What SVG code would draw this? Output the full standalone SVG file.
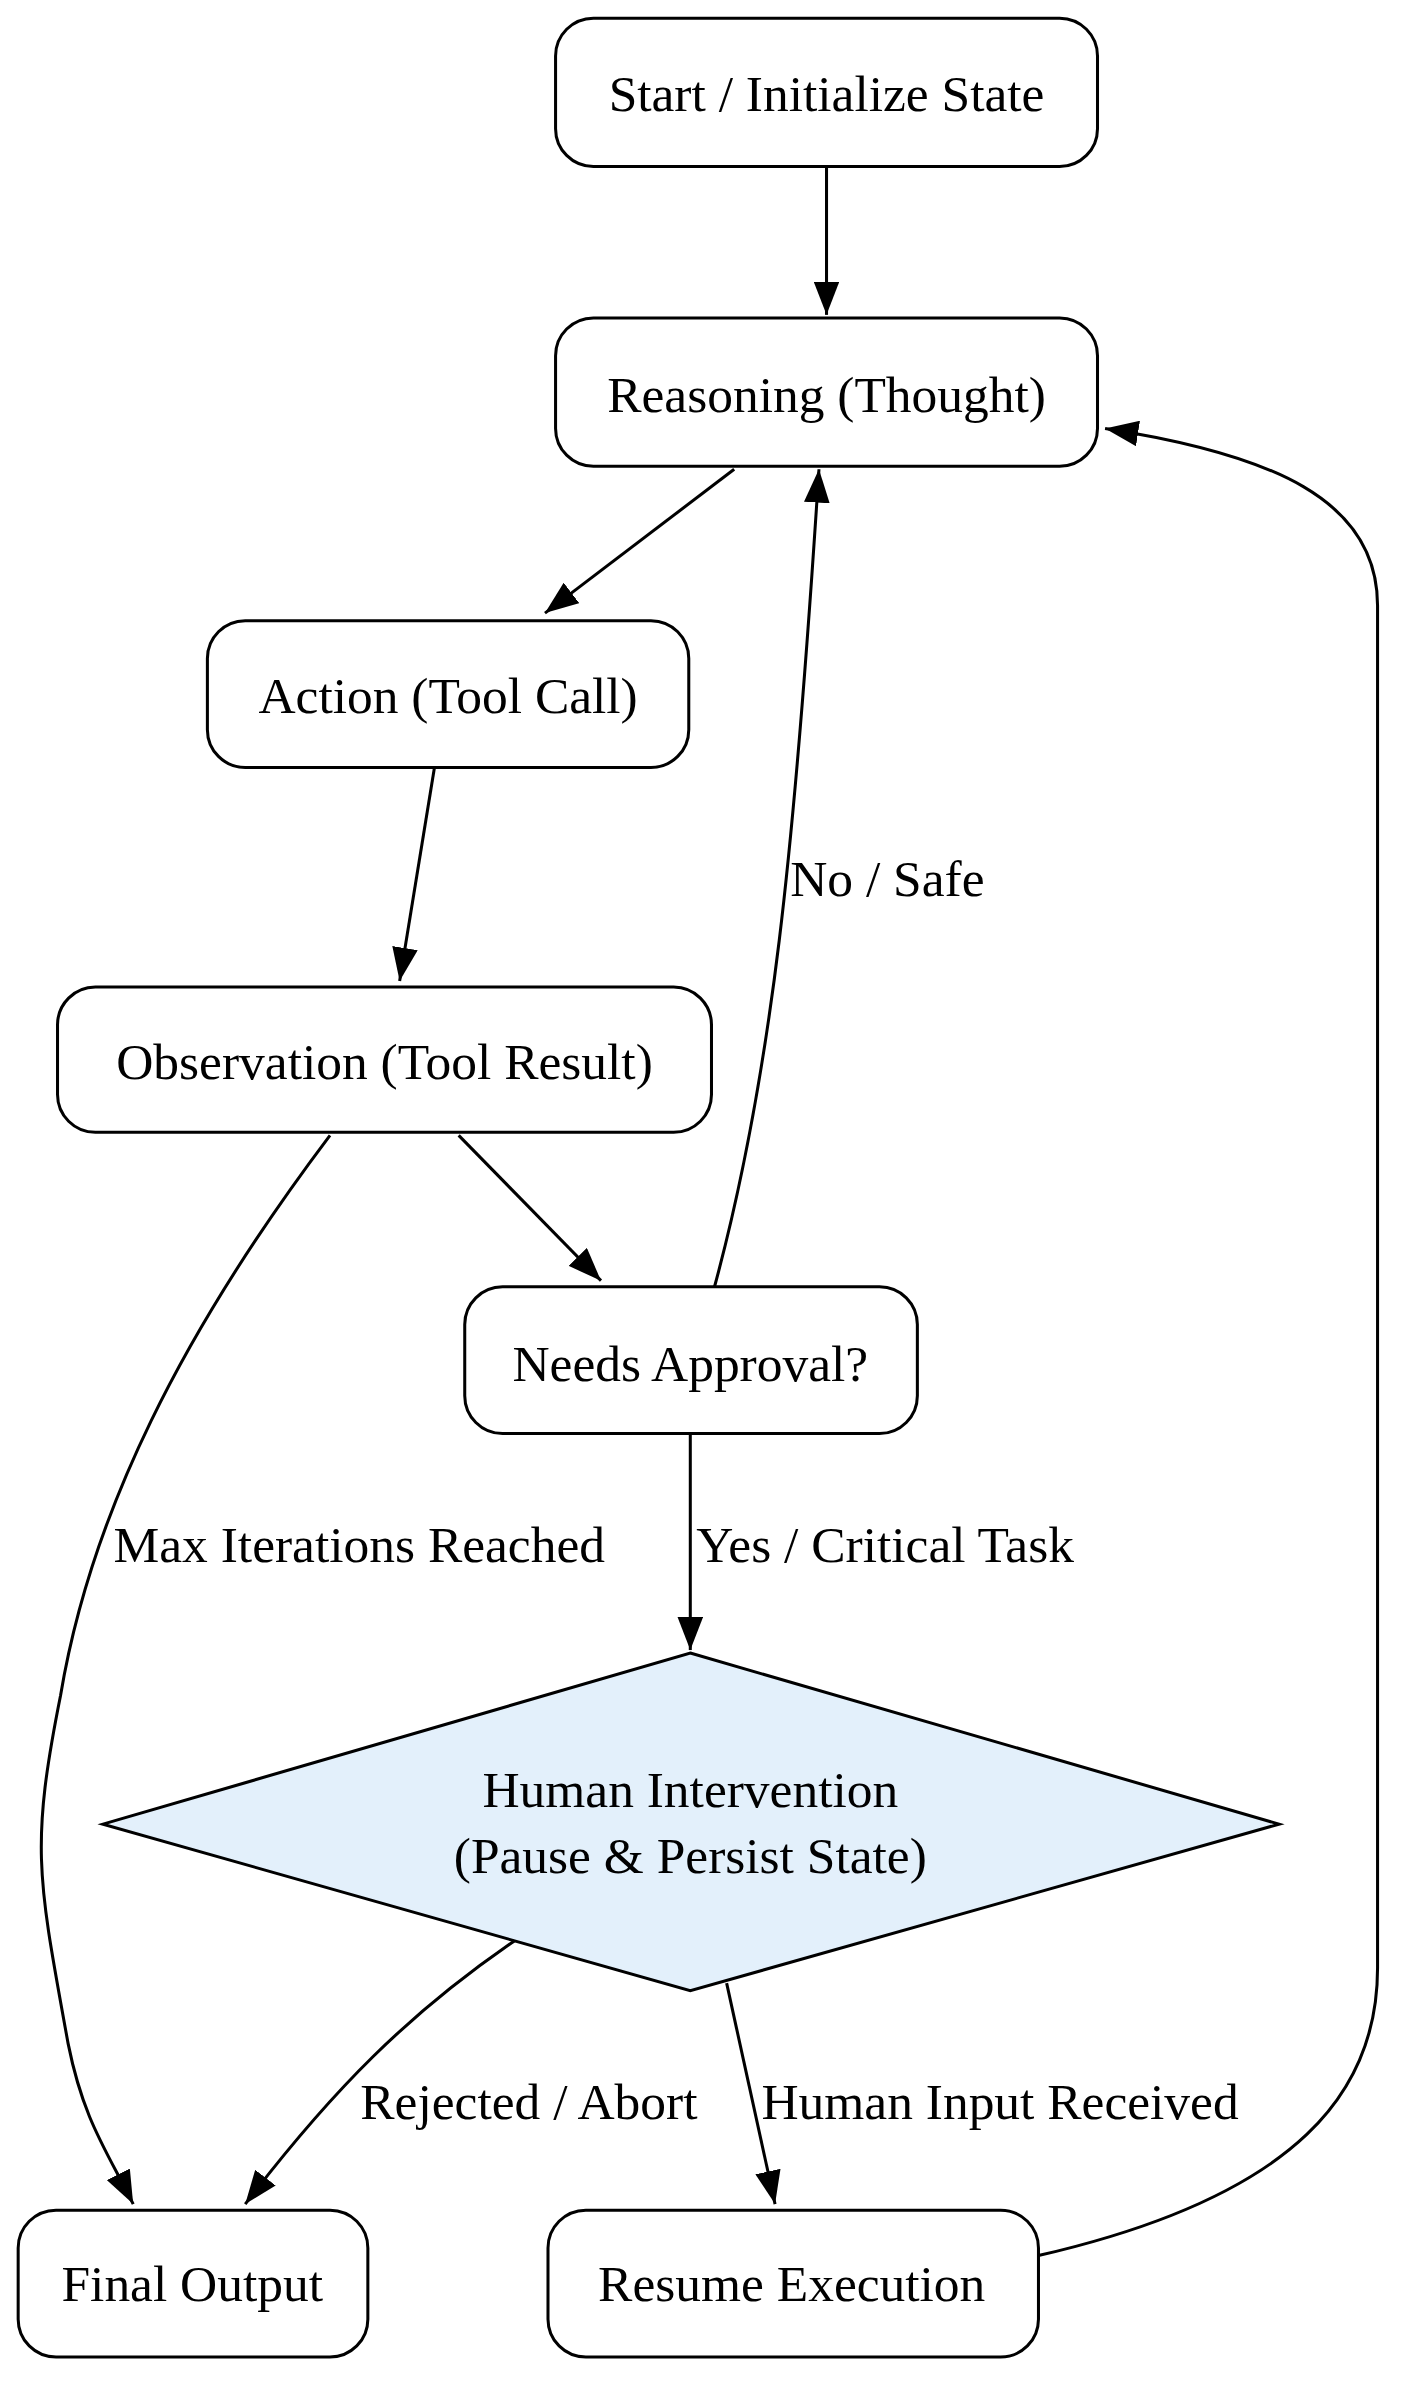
<svg xmlns="http://www.w3.org/2000/svg" width="1423" height="2394" viewBox="0 0 1423 2394">
<style>
.n{fill:#fff;stroke:#000;stroke-width:2}
.d{fill:#e3f0fb;stroke:#000;stroke-width:2}
text{font-family:"Liberation Serif",serif;font-size:34px;fill:#000;text-anchor:middle}
.l{text-anchor:start}
.e{fill:none;stroke:#000;stroke-width:2;marker-end:url(#a)}
</style>
<defs><marker id="a" viewBox="0 0 10 10" refX="10" refY="5" markerWidth="22" markerHeight="17" markerUnits="userSpaceOnUse" orient="auto" preserveAspectRatio="none"><path d="M0,0L10,5L0,10z" fill="#000"/></marker></defs>
<rect width="1423" height="2394" fill="#fff"/>
<g transform="scale(1.5138)">
<g id="start"><rect class="n" x="367" y="12" width="358" height="98" rx="25"/><text x="546" y="73">Start / Initialize State</text></g>
<g id="reasoning"><rect class="n" x="367" y="210" width="358" height="98" rx="25"/><text x="546" y="272">Reasoning (Thought)</text></g>
<g id="action"><rect class="n" x="137" y="410" width="318" height="97" rx="25"/><text x="296" y="471">Action (Tool Call)</text></g>
<g id="observation"><rect class="n" x="38" y="652" width="432" height="96" rx="25"/><text x="254" y="713">Observation (Tool Result)</text></g>
<g id="needs"><rect class="n" x="307" y="850" width="299" height="97" rx="25"/><text x="456" y="912">Needs Approval?</text></g>
<g id="human"><polygon class="d" points="456,1092 845,1205 456,1315 68,1205"/><text x="456" y="1194">Human Intervention</text><text x="456" y="1237">(Pause &amp; Persist State)</text></g>
<g id="final"><rect class="n" x="12" y="1460" width="231" height="97" rx="25"/><text x="127" y="1520">Final Output</text></g>
<g id="resume"><rect class="n" x="362" y="1460" width="324" height="97" rx="25"/><text x="523" y="1520">Resume Execution</text></g>
<g id="edges">
<path class="e" d="M546,110L546,208"/>
<path class="e" d="M485,310L360,405"/>
<path class="e" d="M287,507L264,648"/>
<path class="e" d="M303,750L397,846"/>
<path class="e" d="M472,850C510,710 525,560 541,310"/>
<path class="e" d="M456,947L456,1090"/>
<path class="e" d="M218,750C120,880 60,1000 40,1120C20,1220 25,1240 45,1350C55,1400 70,1420 88,1456"/>
<path class="e" d="M340,1282C270,1330 220,1380 162,1456"/>
<path class="e" d="M480,1310L512,1456"/>
<path class="e" d="M686,1490C860,1450 910,1380 910,1300L910,400C910,330 840,300 730,283"/>
<text class="l" x="522" y="592">No / Safe</text>
<text class="l" x="460" y="1032">Yes / Critical Task</text>
<text class="l" x="75" y="1032">Max Iterations Reached</text>
<text class="l" x="238" y="1400">Rejected / Abort</text>
<text class="l" x="503" y="1400">Human Input Received</text>
</g>
</g>
</svg>
